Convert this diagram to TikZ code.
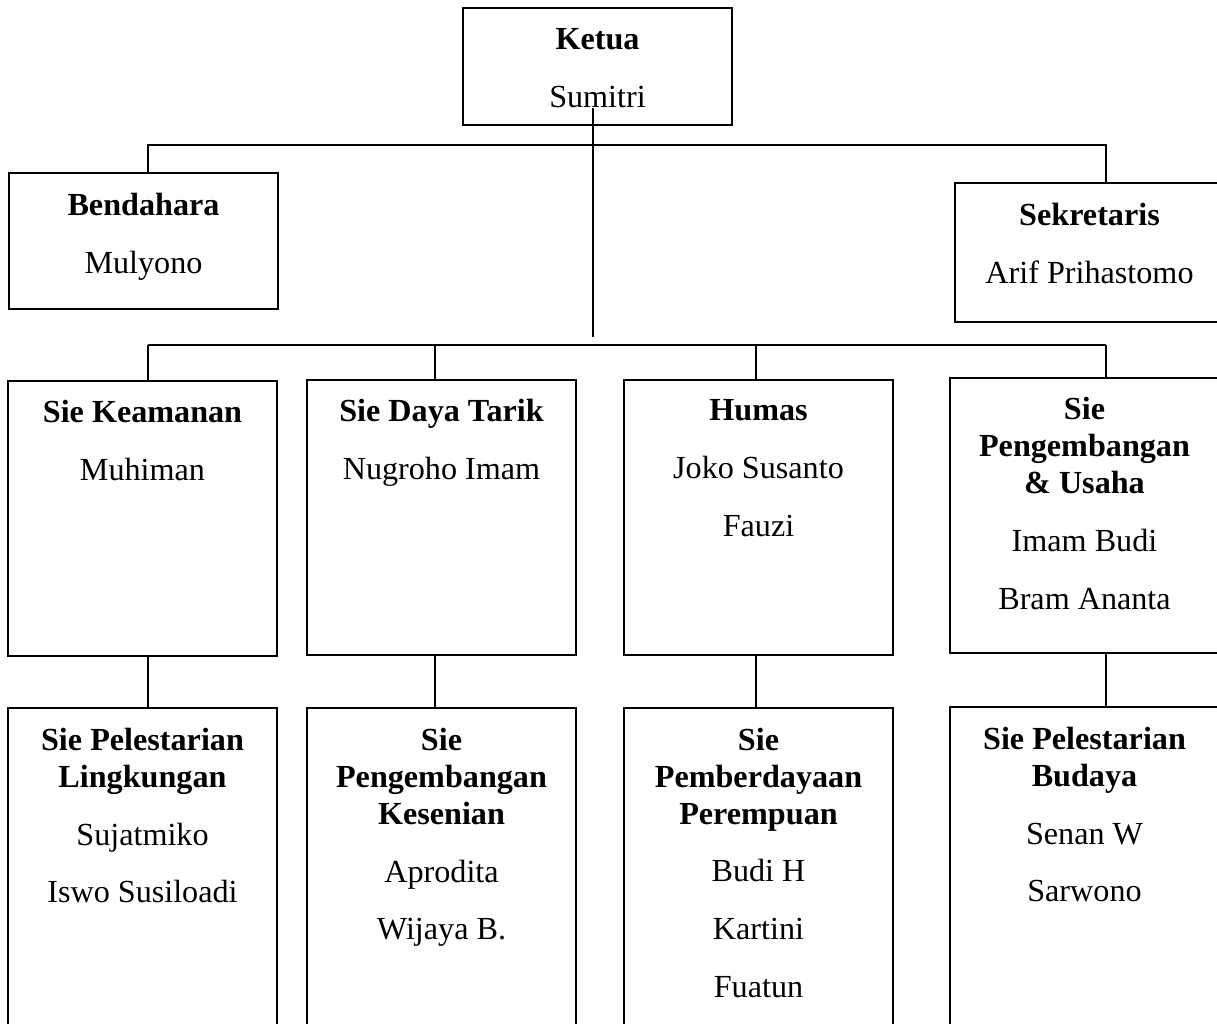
\documentclass[tikz,border=0pt]{standalone}
\usepackage{fontspec}
\setmainfont{Liberation Serif}
\usetikzlibrary{positioning}

\begin{document}
\begin{tikzpicture}[
  x=0.3731pt, y=-0.3731pt,
  kotak/.style={rectangle, draw, line width=0.45pt, minimum width=100.4pt, inner sep=0pt},
  isi/.style={align=center, inner sep=0pt, font=\fontsize{12pt}{13.8pt}\selectfont, execute at begin node=\strut},
  garis/.style={line width=0.45pt},
]
\clip (0,0) rectangle (1217,1024);

% === PENGURUS INTI ===
\node[kotak, minimum height=43.7pt] (ketua)      at (597.5, 66.5) {};
\node[kotak, minimum height=50.7pt] (bendahara)  at (143.5, 241)  {};
\node[kotak, minimum height=51.9pt] (sekretaris) at (1089.5,252.5) {};

\node[isi, below=7.6pt of ketua.north]      (t-ketua)      {\textbf{Ketua}\\[7.8pt]Sumitri};
\node[isi, below=7.6pt of bendahara.north]  (t-bendahara)  {\textbf{Bendahara}\\[7.8pt]Mulyono};
\node[isi, below=7.6pt of sekretaris.north] (t-sekretaris) {\textbf{Sekretaris}\\[7.8pt]Arif Prihastomo};

% === SEKSI BARIS PERTAMA ===
\node[kotak, minimum height=102.6pt] (keamanan)     at (142.5, 518.5) {};
\node[kotak, minimum height=102.6pt] (dayatarik)    at (441.5, 517.5) {};
\node[kotak, minimum height=102.6pt] (humas)        at (758.5, 517.5) {};
\node[kotak, minimum height=102.6pt] (pengembangan) at (1084.5,515.5) {};

\node[isi, below=7.2pt of keamanan.north]     (t-keamanan)     {\textbf{Sie Keamanan}\\[7.8pt]Muhiman};
\node[isi, below=7.2pt of dayatarik.north]    (t-dayatarik)    {\textbf{Sie Daya Tarik}\\[7.8pt]Nugroho Imam};
\node[isi, below=7.2pt of humas.north]        (t-humas)        {\textbf{Humas}\\[7.8pt]Joko Susanto\\[7.8pt]Fauzi};
\node[isi, below=7.2pt of pengembangan.north] (t-pengembangan) {\textbf{Sie}\\\textbf{Pengembangan}\\\textbf{\& Usaha}\\[7.8pt]Imam Budi\\[7.8pt]Bram Ananta};

% === SEKSI BARIS KEDUA ===
\node[kotak, minimum height=131.3pt] (lingkungan) at (142.5, 884) {};
\node[kotak, minimum height=131.3pt] (kesenian)   at (441.5, 884) {};
\node[kotak, minimum height=131.3pt] (perempuan)  at (758.5, 884) {};
\node[kotak, minimum height=131.3pt] (budaya)     at (1084.5,883) {};

\node[isi, below=7.4pt of lingkungan.north] (t-lingkungan) {\textbf{Sie Pelestarian}\\\textbf{Lingkungan}\\[7.8pt]Sujatmiko\\[7.8pt]Iswo Susiloadi};
\node[isi, below=7.4pt of kesenian.north]   (t-kesenian)   {\textbf{Sie}\\\textbf{Pengembangan}\\\textbf{Kesenian}\\[7.8pt]Aprodita\\[7.8pt]Wijaya B.};
\node[isi, below=7.4pt of perempuan.north]  (t-perempuan)  {\textbf{Sie}\\\textbf{Pemberdayaan}\\\textbf{Perempuan}\\[7.8pt]Budi H\\[7.8pt]Kartini\\[7.8pt]Fuatun};
\node[isi, below=7.4pt of budaya.north]     (t-budaya)     {\textbf{Sie Pelestarian}\\\textbf{Budaya}\\[7.8pt]Senan W\\[7.8pt]Sarwono};

% === GARIS PENGHUBUNG ===
\coordinate (atasKiri)  at (148, 145);
\coordinate (atasKanan) at (1106,145);
\coordinate (pusatA)    at (593, 108);
\coordinate (pusatB)    at (593, 337);
\coordinate (bus-a) at (148, 345);
\coordinate (bus-b) at (435, 345);
\coordinate (bus-c) at (756, 345);
\coordinate (bus-d) at (1106,345);

\draw[garis] (bendahara.north -| atasKiri) -- (atasKiri) -- (atasKanan) -- (sekretaris.north -| atasKanan);
\draw[garis] (pusatA) -- (pusatB);
\draw[garis] (bus-a) -- (bus-d);

\foreach \b/\s/\k in {a/keamanan/lingkungan, b/dayatarik/kesenian, c/humas/perempuan, d/pengembangan/budaya}{
  \draw[garis] (bus-\b) -- (\s.north -| bus-\b);
  \draw[garis] (\s.south -| bus-\b) -- (\k.north -| bus-\b);
}
\end{tikzpicture}
\end{document}
